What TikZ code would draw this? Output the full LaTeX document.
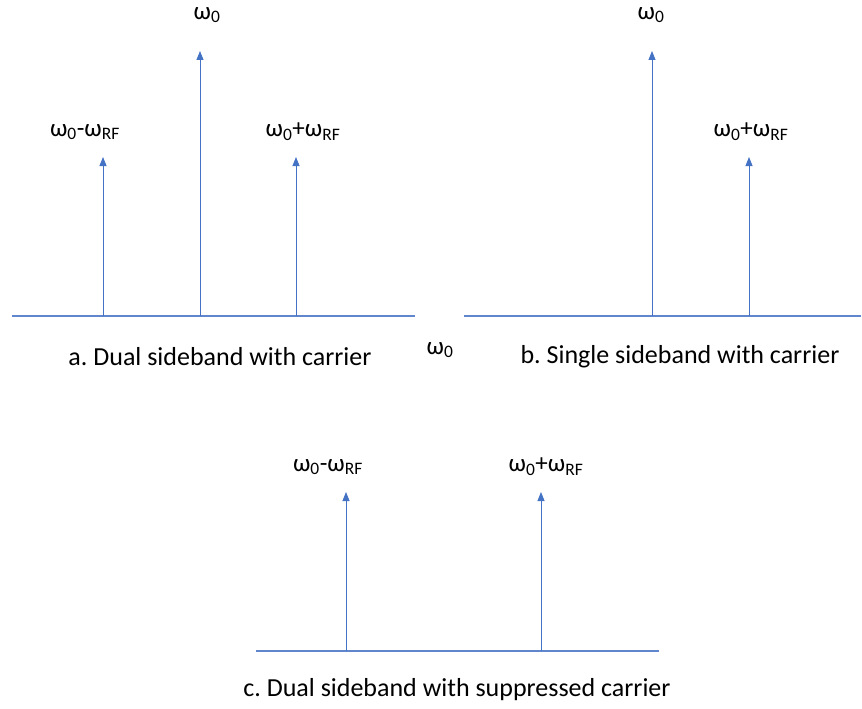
\documentclass[tikz,border=0pt]{standalone}
\usepackage{fontspec}
\setmainfont{Carlito}
\usetikzlibrary{arrows.meta}
\definecolor{specblue}{HTML}{4472C4}
\newcommand{\wz}{ω\textsubscript{0}}
\newcommand{\wrf}{ω\textsubscript{RF}}
\frenchspacing
\begin{document}
\begin{tikzpicture}[x=1pt,y=-1pt,
  axisline/.style={draw=specblue!85!white,line width=1.2pt},
  stem/.style={draw=specblue,line width=0.8pt,-{Triangle[width=7pt,length=9pt]}},
  lbl/.style={font=\fontsize{25}{30}\selectfont,inner sep=0pt},
  captxt/.style={font=\fontsize{26}{31}\selectfont,inner sep=0pt}]
\useasboundingbox (0,0) rectangle (862,709);

% panel a: dual sideband with carrier
\coordinate (a0) at (12,316);
\coordinate (a1) at (415,316);
\draw[axisline] (a0) -- (a1);
\coordinate (aL) at (103,316);
\coordinate (aC) at (200,316);
\coordinate (aR) at (296,316);
\coordinate (aLt) at (103,157);
\coordinate (aCt) at (200,51);
\coordinate (aRt) at (296,157);
\draw[stem] (aL) -- (aLt);
\draw[stem] (aC) -- (aCt);
\draw[stem] (aR) -- (aRt);
\node[lbl] (laC) at (207,15) {\wz};
\node[lbl] (laL) at (85,132) {\wz-\wrf};
\node[lbl] (laR) at (303,132) {\wz+\wrf};
\node[captxt] (capa) at (220,357) {a. Dual sideband with carrier};

\node[lbl] (mid) at (440,350) {\wz};

% panel b: single sideband with carrier
\coordinate (b0) at (464,316);
\coordinate (b1) at (861,316);
\draw[axisline] (b0) -- (b1);
\coordinate (bC) at (652,316);
\coordinate (bR) at (749,316);
\coordinate (bCt) at (652,51);
\coordinate (bRt) at (749,157);
\draw[stem] (bC) -- (bCt);
\draw[stem] (bR) -- (bRt);
\node[lbl] (lbC) at (651,15) {\wz};
\node[lbl] (lbR) at (751,132) {\wz+\wrf};
\node[captxt] (capb) at (680,357) {b. Single sideband with carrier};

% panel c: dual sideband with suppressed carrier
\coordinate (c0) at (256,651);
\coordinate (c1) at (659,651);
\draw[axisline] (c0) -- (c1);
\coordinate (cL) at (346,651);
\coordinate (cR) at (541,651);
\coordinate (cLt) at (346,492);
\coordinate (cRt) at (541,492);
\draw[stem] (cL) -- (cLt);
\draw[stem] (cR) -- (cRt);
\node[lbl] (lcL) at (328,467) {\wz-\wrf};
\node[lbl] (lcR) at (546,467) {\wz+\wrf};
\node[captxt] (capc) at (457,690) {c. Dual sideband with suppressed carrier};
\end{tikzpicture}
\end{document}
